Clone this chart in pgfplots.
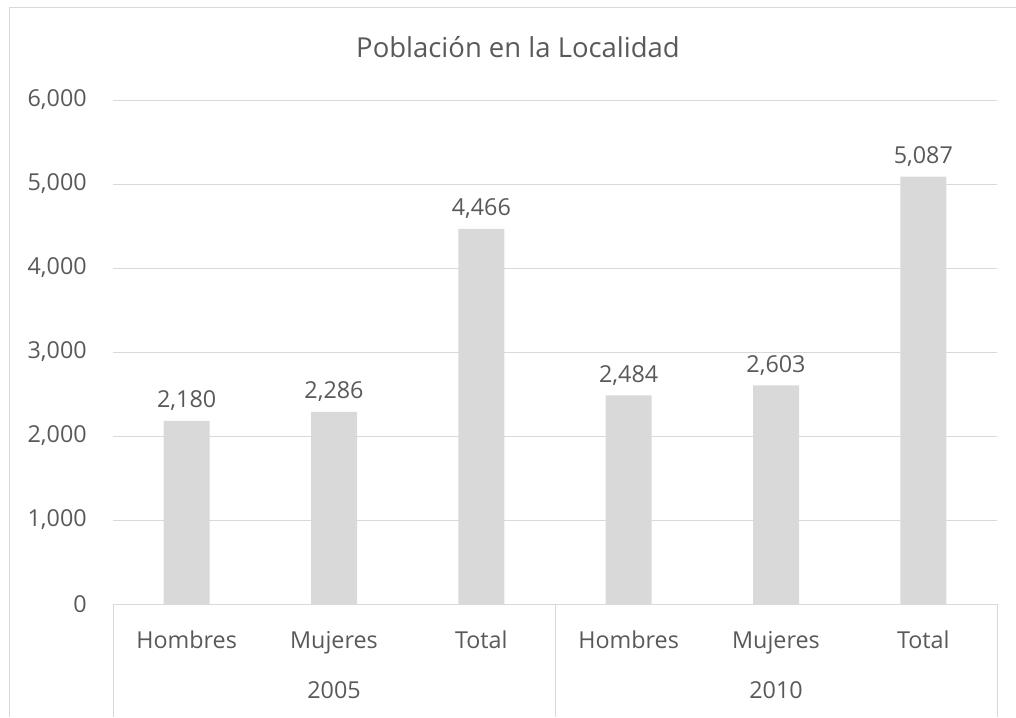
\documentclass[border=0pt]{standalone}
\usepackage{pgfplots}
\pgfplotsset{compat=1.18}
\usepackage{fontspec}
\setmainfont{Open Sans}
\definecolor{txt}{HTML}{595959}
\definecolor{gridc}{HTML}{D9D9D9}
\definecolor{barc}{HTML}{D9D9D9}
\newcommand\lbl{\fontsize{17.5}{21}\selectfont}

\begin{document}
\begin{tikzpicture}[x=1pt,y=1pt]
\path[use as bounding box] (0,0) rectangle (762,537.75);
\draw[gridc, line width=0.75pt] (6.75,0) -- (6.75,531.75) -- (762,531.75);
\node[anchor=base, txt, font=\fontsize{20.6}{25}\selectfont] at (388.5,494.25) {Población en la Localidad};
\begin{axis}[
    at={(84.75pt,84.75pt)}, anchor=south west,
    scale only axis, width=663pt, height=378pt,
    xmin=-0.5, xmax=5.5, ymin=0, ymax=6000,
    ytick={0,1000,...,6000},
    scaled y ticks=false,
    /pgf/number format/1000 sep={,},
    /pgf/number format/assume math mode=true,
    xtick=data,
    xticklabels={Hombres,Mujeres,Total,Hombres,Mujeres,Total},
    major tick length=0pt,
    axis lines*=left,
    axis line style={-},
    x axis line style={gridc, line width=0.75pt},
    y axis line style={draw=none},
    ymajorgrids,
    grid style={gridc, line width=0.75pt},
    ticklabel style={font=\lbl, text=txt},
    yticklabel style={anchor=east, inner sep=0pt, xshift=-19.5pt},
    xticklabel style={anchor=base, yshift=-33pt},
    ybar, bar width=34.5pt,
    nodes near coords,
    every node near coord/.append style={anchor=base, yshift=9.75pt, font=\lbl, text=txt},
    clip=false,
]
\addplot[fill=barc, draw=none] coordinates {
    (0,2180) (1,2286) (2,4466) (3,2484) (4,2603) (5,5087)
};
\draw[gridc, line width=0.75pt] (axis cs:-0.5,0) -- ++(0pt,-84.75pt);
\draw[gridc, line width=0.75pt] (axis cs:2.5,0) -- ++(0pt,-84.75pt);
\draw[gridc, line width=0.75pt] (axis cs:5.5,0) -- ++(0pt,-84.75pt);
\node[anchor=base, yshift=-70.5pt, font=\lbl, text=txt] at (axis cs:1,0) {2005};
\node[anchor=base, yshift=-70.5pt, font=\lbl, text=txt] at (axis cs:4,0) {2010};
\end{axis}
\end{tikzpicture}
\end{document}
